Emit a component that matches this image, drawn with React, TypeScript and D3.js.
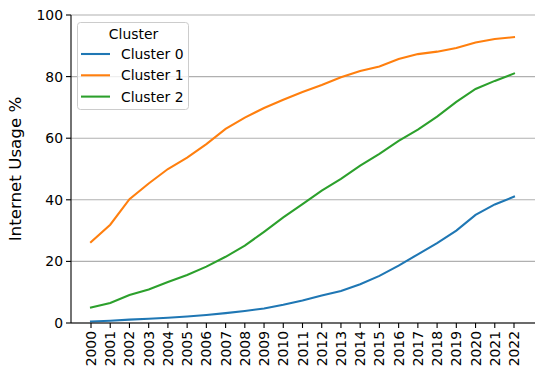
import React from "react";
import * as d3 from "d3";

const years = [2000,2001,2002,2003,2004,2005,2006,2007,2008,2009,2010,2011,2012,2013,2014,2015,2016,2017,2018,2019,2020,2021,2022];
const cluster0 = [0.5,0.75,1.1,1.4,1.7,2.1,2.6,3.2,3.9,4.7,5.9,7.3,8.9,10.4,12.6,15.3,18.6,22.3,25.9,30.0,35.1,38.5,41.0];
const cluster1 = [26.3,31.9,40.2,45.3,50.0,53.7,58.1,63.0,66.7,69.8,72.5,75.0,77.3,79.8,81.8,83.3,85.7,87.3,88.1,89.3,91.1,92.2,92.8];
const cluster2 = [5.0,6.5,9.1,10.9,13.3,15.6,18.3,21.5,25.1,29.6,34.3,38.6,43.0,46.8,51.1,54.9,59.1,62.8,67.0,71.8,76.0,78.6,81.0];
const seriesNames = ["Cluster 0","Cluster 1","Cluster 2"];
const colors = ["#1f77b4","#ff7f0e","#2ca02c"];
const yTicks = [0,20,40,60,80,100];

export default function App() {
  const W = 544, H = 378;
  const left = 71, right = 535, top = 15, bottom = 323;
  const x = d3.scaleLinear().domain([2000, 2022]).range([91, 514]);
  const y = d3.scaleLinear().domain([0, 100]).range([bottom, top]);
  const line = d3.line<number>().x((_, i) => x(years[i])).y(d => y(d));
  const data = [cluster0, cluster1, cluster2];
  const font = "DejaVu Sans, sans-serif";
  return (
    <svg width={W} height={H} style={{position:"absolute", left:0, top:0}} fontFamily={font}>
      <rect width={W} height={H} fill="#fff" />
      {yTicks.map(t => (
        <g key={t}>
          <line x1={left} x2={right} y1={y(t)} y2={y(t)} stroke="#b0b0b0" strokeWidth={1.1} />
          <line x1={left - 5} x2={left} y1={y(t)} y2={y(t)} stroke="#000" strokeWidth={1.1} />
          <text x={left - 8} y={y(t)} dy="0.36em" textAnchor="end" fontSize={13.9} fill="#000">{t}</text>
        </g>
      ))}
      {data.map((d, i) => (
        <path key={i} d={line(d) || ""} fill="none" stroke={colors[i]} strokeWidth={2.08} strokeLinecap="square" />
      ))}
      <line x1={left} x2={left} y1={top} y2={bottom} stroke="#000" strokeWidth={1.1} />
      <line x1={left} x2={right} y1={bottom} y2={bottom} stroke="#000" strokeWidth={1.1} />
      {years.map(yr => (
        <g key={yr}>
          <line x1={x(yr)} x2={x(yr)} y1={bottom} y2={bottom + 5} stroke="#000" strokeWidth={1.1} />
          <text transform={`translate(${x(yr)},${bottom + 8}) rotate(-90)`} dy="0.36em" textAnchor="end" fontSize={13.9} fill="#000">{yr}</text>
        </g>
      ))}
      <text transform={`translate(21,169) rotate(-90)`} textAnchor="middle" fontSize={16.7} fill="#000">Internet Usage %</text>
      <g>
        <rect x={77.5} y={22.5} width={111} height={87} rx={3} fill="#fff" fillOpacity={0.8} stroke="#cccccc" strokeWidth={1} />
        <text x={133.5} y={34} dy="0.36em" textAnchor="middle" fontSize={13.9} fill="#000">Cluster</text>
        {seriesNames.map((n, i) => (
          <g key={n}>
            <line x1={81} x2={110} y1={54 + i * 21.3} y2={54 + i * 21.3} stroke={colors[i]} strokeWidth={2.08} />
            <text x={121} y={54 + i * 21.3} dy="0.36em" fontSize={13.9} fill="#000">{n}</text>
          </g>
        ))}
      </g>
    </svg>
  );
}
